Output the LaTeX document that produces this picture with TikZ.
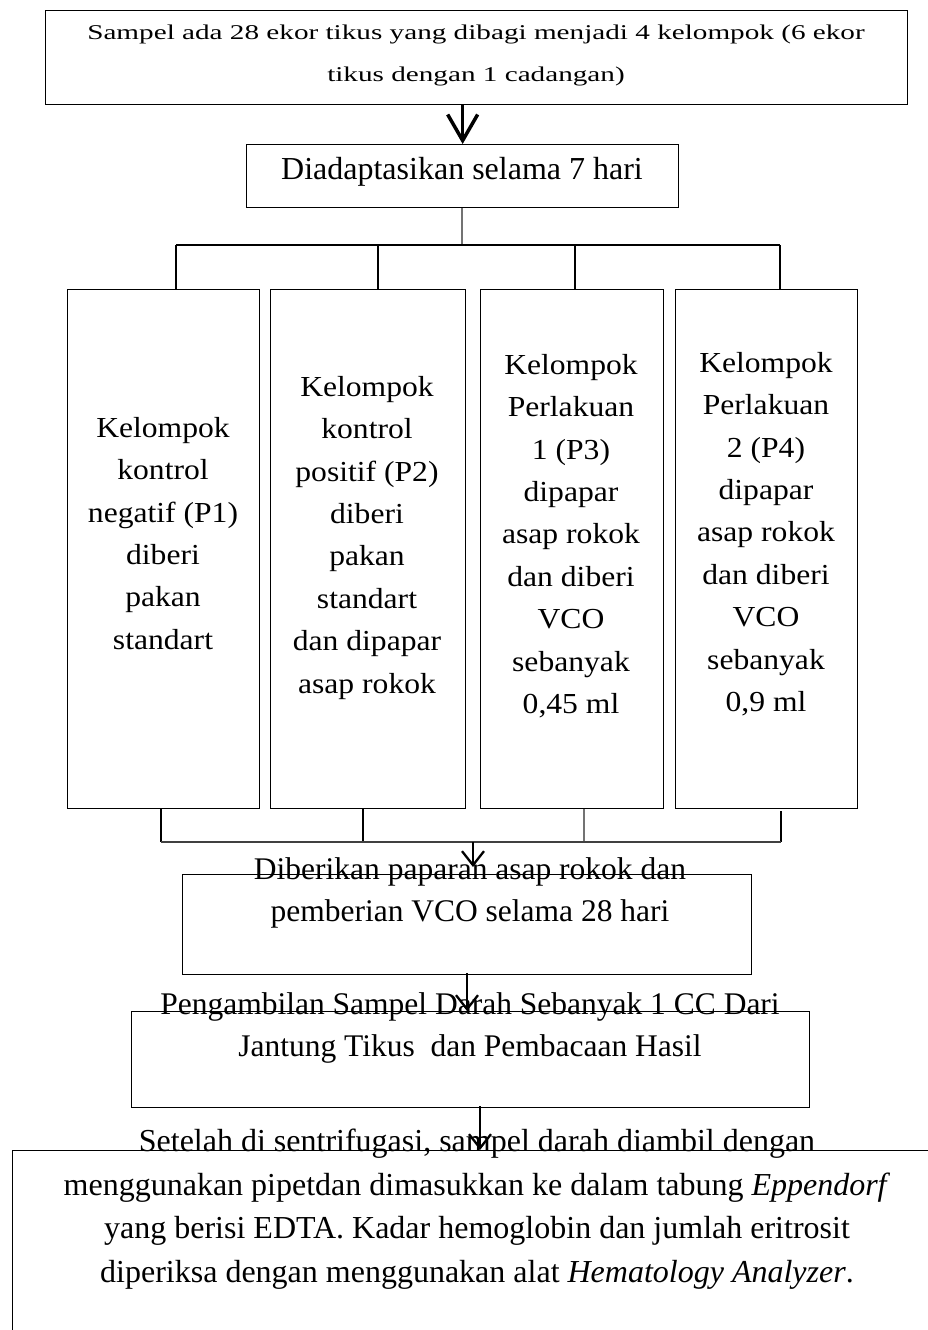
\documentclass[tikz,border=0pt]{standalone}
\usepackage{fontspec}
\setmainfont{Liberation Serif}
\newfontfamily\topfont[FakeStretch=1.39]{Liberation Serif}
\newfontfamily\colfont[FakeStretch=1.09]{Liberation Serif}
\usetikzlibrary{arrows.meta}
\begin{document}
\begin{tikzpicture}[x=1pt,y=-1pt,
  boxn/.style={draw=black, line width=1.3pt, inner sep=0pt, anchor=north west},
  txt/.style={inner sep=0pt, align=center, anchor=north},
  conn/.style={draw=black, line width=1.5pt},
  dropline/.style={draw=black, line width=2.2pt},
  thinconn/.style={draw=black!55, line width=1.1pt},
  bigarrow/.style={line width=3.5pt, -{Straight Barb[length=26pt,width=30pt]}},
  smallarrow/.style={line width=2.3pt, -{Straight Barb[length=14pt,width=22pt]}},
  colfontsty/.style={font=\colfont\fontsize{29}{42.4}\selectfont},
  mainsty/.style={font=\fontsize{31.5}{42.5}\selectfont}
  ]
\useasboundingbox (0,0) rectangle (928,1330);
\clip (0,0) rectangle (928,1330);

% boxes
\node[boxn, minimum width=862pt, minimum height=94pt] (b1) at (45,10) {};
\node[boxn, minimum width=432pt, minimum height=63pt] (b2) at (246,144) {};
\node[boxn, minimum width=192pt, minimum height=519pt] (c1) at (67,289) {};
\node[boxn, minimum width=195pt, minimum height=519pt] (c2) at (270,289) {};
\node[boxn, minimum width=183pt, minimum height=519pt] (c3) at (480,289) {};
\node[boxn, minimum width=182pt, minimum height=519pt] (c4) at (675,289) {};
\node[boxn, minimum width=569pt, minimum height=100pt] (b5) at (182,874) {};
\node[boxn, minimum width=678pt, minimum height=96pt] (b6) at (131,1011) {};
\node[boxn, minimum width=940pt, minimum height=220pt] (b7) at (12,1150) {};

% texts
\node[txt, font=\topfont\fontsize{21}{42}\selectfont] (t1) at (476,24.5)
  {Sampel ada 28 ekor tikus yang dibagi menjadi 4 kelompok (6 ekor\\tikus dengan 1 cadangan)};
\node[inner sep=0pt, anchor=base, font=\fontsize{32}{42}\selectfont] (t2) at (462,179)
  {Diadaptasikan selama 7 hari};
\node[txt, colfontsty] (tc1) at (163,417)
  {Kelompok\\kontrol\\negatif (P1)\\diberi\\pakan\\standart};
\node[txt, colfontsty] (tc2) at (367,376)
  {Kelompok\\kontrol\\positif (P2)\\diberi\\pakan\\standart\\dan dipapar\\asap rokok};
\node[txt, colfontsty] (tc3) at (571,354)
  {Kelompok\\Perlakuan\\1 (P3)\\dipapar\\asap rokok\\dan diberi\\VCO\\sebanyak\\0,45 ml};
\node[txt, colfontsty] (tc4) at (766,352)
  {Kelompok\\Perlakuan\\2 (P4)\\dipapar\\asap rokok\\dan diberi\\VCO\\sebanyak\\0,9 ml};
\node[txt, mainsty] (t5) at (470,857)
  {Diberikan paparan asap rokok dan\\pemberian VCO selama 28 hari};
\node[txt, mainsty] (t6) at (470,992)
  {Pengambilan Sampel Darah Sebanyak 1 CC Dari\\Jantung Tikus\ \ dan Pembacaan Hasil};
\node[txt, font=\fontsize{32}{43.5}\selectfont] (t7) at (477,1129)
  {Setelah di sentrifugasi, sampel darah diambil dengan\\
   menggunakan pipetdan dimasukkan ke dalam tabung \textit{Eppendorf}\\
   yang berisi EDTA. Kadar hemoglobin dan jumlah eritrosit\\
   diperiksa dengan menggunakan alat \textit{Hematology Analyzer}.};

% upper branching
\coordinate (ua) at (462,245);
\coordinate (u1) at (176,245);
\coordinate (u2) at (378,245);
\coordinate (u3) at (575,245);
\coordinate (u4) at (780,245);
\draw[thinconn] (b2.south -| ua) -- (ua);
\draw[conn] (u1) -- (u4);
\draw[dropline] (u1) -- (c1.north -| u1);
\draw[dropline] (u2) -- (c2.north -| u2);
\draw[dropline] (u3) -- (c3.north -| u3);
\draw[dropline] (u4) -- (c4.north -| u4);

% lower joining
\coordinate (l1) at (161,842);
\coordinate (l2) at (363,842);
\coordinate (l3) at (584,842);
\coordinate (l4) at (781,842);
\coordinate (la) at (473,842);
\draw[conn] (c1.south -| l1) -- (l1);
\draw[conn] (c2.south -| l2) -- (l2);
\draw[thinconn] (c3.south -| l3) -- (l3);
\draw[conn] ([yshift=-2pt]c4.south -| l4) -- (l4);
\draw[conn, draw=black!75, line width=2pt] (l1) -- (l4);

% arrows
\coordinate (a2end) at (473,867);
\draw[bigarrow] (b1.south -| b2.north) -- (b2.north);
\draw[smallarrow] (la) -- (a2end);
\draw[smallarrow] ([yshift=2pt]b5.south -| 467,0) -- (b6.north -| 467,0);
\draw[smallarrow] ([yshift=2pt]b6.south -| 480,0) -- (b7.north -| 480,0);
\end{tikzpicture}
\end{document}
